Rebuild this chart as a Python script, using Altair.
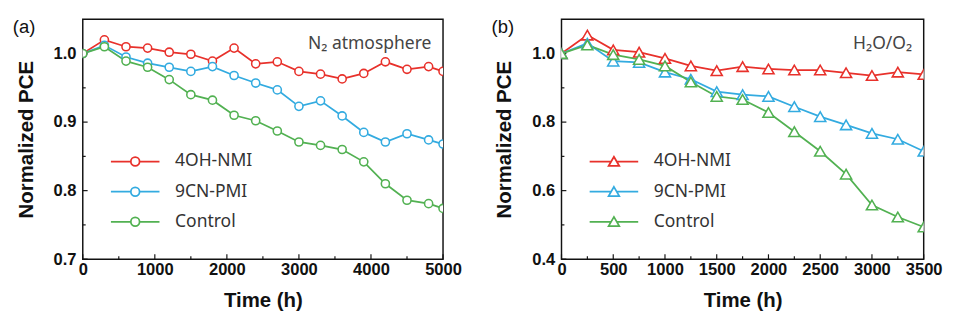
import altair as alt
import pandas as pd

series_names = ["4OH-NMI", "9CN-PMI", "Control"]
colors = ["#e8312b", "#33abe0", "#52b152"]

# Panel (a): N2 atmosphere
t_a = [0, 300, 600, 900, 1200, 1500, 1800, 2100, 2400, 2700, 3000, 3300, 3600, 3900, 4200, 4500, 4800, 5000]
a_4oh = [1.0, 1.020, 1.010, 1.008, 1.002, 0.999, 0.989, 1.008, 0.985, 0.988, 0.974, 0.970, 0.963, 0.971, 0.988, 0.977, 0.981, 0.974]
a_9cn = [1.0, 1.012, 0.995, 0.986, 0.980, 0.974, 0.981, 0.968, 0.957, 0.947, 0.923, 0.931, 0.909, 0.885, 0.871, 0.883, 0.874, 0.868]
a_ctl = [1.0, 1.010, 0.989, 0.980, 0.962, 0.940, 0.932, 0.910, 0.902, 0.887, 0.871, 0.866, 0.860, 0.842, 0.810, 0.786, 0.781, 0.774]

# Panel (b): H2O/O2
t_b = [0, 250, 500, 750, 1000, 1250, 1500, 1750, 2000, 2250, 2500, 2750, 3000, 3250, 3500]
b_4oh = [1.0, 1.054, 1.011, 1.004, 0.986, 0.964, 0.950, 0.962, 0.955, 0.952, 0.952, 0.944, 0.936, 0.946, 0.939]
b_9cn = [1.0, 1.030, 0.978, 0.974, 0.946, 0.925, 0.889, 0.880, 0.875, 0.845, 0.816, 0.792, 0.767, 0.750, 0.715]
b_ctl = [1.0, 1.025, 0.997, 0.983, 0.964, 0.917, 0.875, 0.866, 0.828, 0.772, 0.715, 0.648, 0.558, 0.523, 0.494]

a_xticks = [0, 1000, 2000, 3000, 4000, 5000]
a_xminor = [500, 1500, 2500, 3500, 4500]
a_yticks = [0.7, 0.8, 0.9, 1.0]
a_yminor = [0.75, 0.85, 0.95]
b_xticks = [0, 500, 1000, 1500, 2000, 2500, 3000, 3500]
b_xminor = [250, 750, 1250, 1750, 2250, 2750, 3250]
b_yticks = [0.4, 0.6, 0.8, 1.0]
b_yminor = [0.5, 0.7, 0.9]

H = 247
LABEL_FONT = "Liberation Sans"

circle_path = ("M -1 0 H -0.18 M 0.18 0 H 1 "
               "M 0.18 0 A 0.18 0.18 0 1 1 -0.18 0 A 0.18 0.18 0 1 1 0.18 0 Z")
tri_path = ("M -1 0 H -0.116 M 0.116 0 H 1 "
            "M 0 -0.2 L 0.22 0.18 L -0.22 0.18 Z")


def panel(t, ys, shape, size, legend_path, xdom, xt, xm, ydom, yt, ym, tag, note, W):
    rows = []
    for name, vals in zip(series_names, ys):
        for tt, v in zip(t, vals):
            rows.append({"t": tt, "v": v, "series": name})
    df = pd.DataFrame(rows)
    xs = alt.Scale(domain=xdom, nice=False, zero=False)
    ysc = alt.Scale(domain=ydom, nice=False, zero=False)
    cs = alt.Scale(domain=series_names, range=colors)

    legend = alt.Legend(
        title=None, orient="none", legendX=28, legendY=132, padding=0,
        symbolType=legend_path, symbolSize=2500, symbolStrokeWidth=1.8,
        symbolFillColor="white", symbolOpacity=1, clipHeight=29, rowPadding=2,
        labelFont="Noto Sans", labelFontSize=18, labelColor="#333",
        labelOffset=15, labelLimit=300)

    xaxis = alt.Axis(values=xt, ticks=False, domain=False, grid=False, format="d",
                     labelFont=LABEL_FONT, labelFontWeight="bold", labelFontSize=17,
                     labelColor="#111", labelPadding=3, labelFlush=False,
                     title="Time (h)", titleFont=LABEL_FONT, titleFontWeight="bold",
                     titleFontSize=21, titleColor="#111", titleY=49,
                     titleBaseline="alphabetic")
    yaxis = alt.Axis(values=yt, ticks=False, domain=False, grid=False, format=".1f",
                     labelFont=LABEL_FONT, labelFontWeight="bold", labelFontSize=17,
                     labelColor="#111", labelPadding=7,
                     title="Normalized PCE", titleFont=LABEL_FONT, titleFontWeight="bold",
                     titleFontSize=21, titleColor="#111", titleX=-58, titleY=H / 2,
                     titleBaseline="middle", titleAlign="center")

    base = alt.Chart(df)
    lines = base.mark_line(strokeWidth=1.8, clip=True).encode(
        x=alt.X("t:Q", scale=xs, axis=xaxis),
        y=alt.Y("v:Q", scale=ysc, axis=yaxis),
        stroke=alt.Stroke("series:N", scale=cs, legend=legend),
    )
    pts = base.mark_point(shape=shape, size=size, filled=False, strokeWidth=1.6,
                          clip=True, opacity=1).encode(
        x=alt.X("t:Q", scale=xs),
        y=alt.Y("v:Q", scale=ysc),
        stroke=alt.Stroke("series:N", scale=cs, legend=legend),
        fill=alt.value("white"),
    )
    xmaj = alt.Chart(pd.DataFrame({"v": xt})).mark_rule(color="#111", strokeWidth=1.2).encode(
        x=alt.X("v:Q", scale=xs), y=alt.value(H), y2=alt.value(H - 5))
    xmin = alt.Chart(pd.DataFrame({"v": xm})).mark_rule(color="#111", strokeWidth=1.2).encode(
        x=alt.X("v:Q", scale=xs), y=alt.value(H), y2=alt.value(H - 3))
    ymaj = alt.Chart(pd.DataFrame({"v": yt})).mark_rule(color="#111", strokeWidth=1.2).encode(
        y=alt.Y("v:Q", scale=ysc), x=alt.value(0), x2=alt.value(5))
    ymin = alt.Chart(pd.DataFrame({"v": ym})).mark_rule(color="#111", strokeWidth=1.2).encode(
        y=alt.Y("v:Q", scale=ysc), x=alt.value(0), x2=alt.value(3))
    tag_t = alt.Chart(pd.DataFrame({"s": [tag]})).mark_text(
        font=LABEL_FONT, fontSize=19, color="#111", align="left", baseline="alphabetic"
    ).encode(text="s:N", x=alt.value(-72), y=alt.value(14))
    note_t = alt.Chart(pd.DataFrame({"s": [note]})).mark_text(
        font="Noto Sans", fontSize=18, color="#444", align="right", baseline="alphabetic"
    ).encode(text="s:N", x=alt.value(W - 12), y=alt.value(31))
    return alt.layer(xmaj, xmin, ymaj, ymin, lines, pts, tag_t, note_t).properties(
        width=W, height=H)


pa = panel(t_a, [a_4oh, a_9cn, a_ctl], "circle", 70, circle_path, [0, 5000],
           a_xticks, a_xminor, [0.7, 1.05], a_yticks, a_yminor, "(a)", "N\u2082 atmosphere", 371)
pb = panel(t_b, [b_4oh, b_9cn, b_ctl], "triangle-up", 130, tri_path, [0, 3500],
           b_xticks, b_xminor, [0.4, 1.1], b_yticks, b_yminor, "(b)", "H\u2082O/O\u2082", 373)

chart = alt.hconcat(pa, pb, spacing=122, bounds="flush").resolve_scale(
    stroke="independent", x="independent", y="independent"
).properties(
    padding={"left": 4, "top": 5, "right": 4, "bottom": 4},
    background="white",
).configure_view(stroke="#111", strokeWidth=1.5)

chart.save("out.html", embed_options={"renderer": "svg", "actions": False})
